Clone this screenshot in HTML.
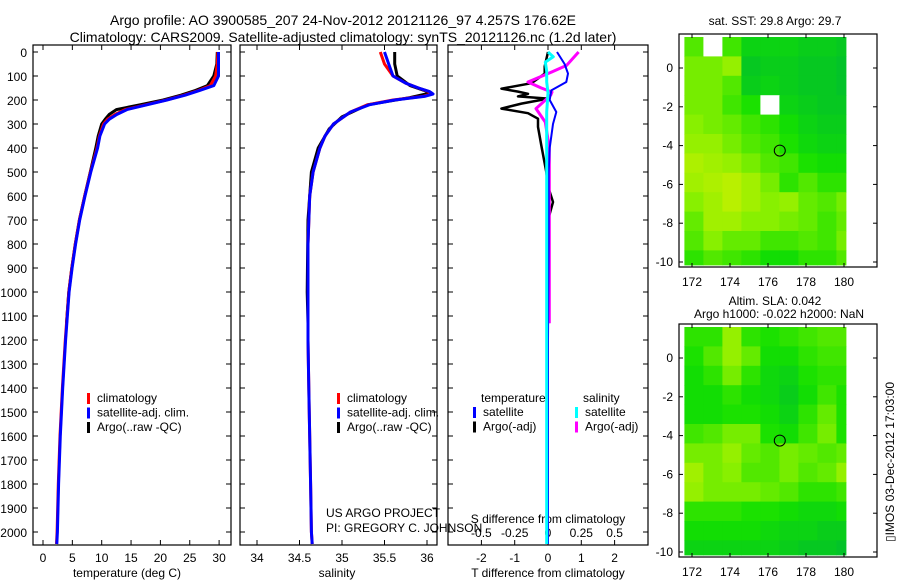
<!DOCTYPE html>
<html><head><meta charset="utf-8">
<style>
body{margin:0;background:#fff;}
svg{display:block;font-family:"Liberation Sans",sans-serif;}
text{fill:#000;}
</style></head>
<body>
<svg id="fig" width="900" height="580" viewBox="0 0 900 580">
<text x="343" y="25" font-size="14" text-anchor="middle">Argo profile: AO 3900585_207 24-Nov-2012 20121126_97 4.257S 176.62E</text>
<text x="343" y="42" font-size="14" text-anchor="middle">Climatology: CARS2009. Satellite-adjusted climatology: synTS_20121126.nc (1.2d later)</text>
<text x="775" y="25" font-size="12" text-anchor="middle">sat. SST: 29.8 Argo: 29.7</text>
<text x="775" y="305" font-size="12" text-anchor="middle">Altim. SLA: 0.042</text>
<text x="779" y="318" font-size="12" text-anchor="middle">Argo h1000: -0.022 h2000: NaN</text>
<text transform="translate(894,462) rotate(-90)" font-size="12" text-anchor="middle">▯IMOS 03-Dec-2012 17:03:00</text>
<text x="326" y="517" font-size="12">US ARGO PROJECT</text>
<text x="326" y="532" font-size="12">PI: GREGORY C. JOHNSON</text>
</svg>
<script>
// ---- profile data ----
const climDepth=[0,50,100,140,160,180,200,220,240,260,280,300,350,400,500,600,700,800,900,1000,1200,1400,1600,1800,2000,2050];
const climTemp=[29.8,29.7,29.4,28.5,26.5,24,21,17.5,14,12.3,11,10.3,9.6,9.2,8.1,7.1,6.2,5.5,4.9,4.4,3.8,3.3,2.9,2.6,2.4,2.3];
const satTemp=[29.9,29.9,29.9,29.1,26.7,24.2,21.1,17.7,14.3,12.6,11.3,10.5,9.7,9.3,8.15,7.15,6.25,5.55,4.95,4.45,3.85,3.35,2.95,2.65,2.45,2.35];
const argoDepth=[0,50,100,140,160,180,200,220,240,260,280,300,350,400,500,600,700,800,900,1000,1130];
const argoTemp=[29.7,29.6,29.1,28.0,26.0,23.5,20.5,16.5,12.5,11.3,10.6,10.0,9.4,9.0,8.05,7.1,6.2,5.5,4.9,4.4,4.0];
const salDepth=[0,50,100,130,150,165,175,185,200,220,250,300,350,400,500,600,800,1000,1200,1400,1600,1800,2000,2050];
const climSal=[35.45,35.5,35.6,35.75,35.9,36.02,36.05,35.95,35.6,35.3,35.1,34.9,34.8,34.74,34.66,34.62,34.6,34.6,34.6,34.61,34.62,34.63,34.64,34.65];
const satSal=[35.5,35.55,35.6,35.75,35.9,36.03,36.07,35.97,35.62,35.32,35.1,34.9,34.8,34.74,34.66,34.62,34.6,34.6,34.6,34.61,34.62,34.63,34.64,34.65];
const argoSalDepth=[0,50,100,140,170,190,220,270,320,400,500,700,1000,1130];
const argoSal=[35.62,35.62,35.65,35.8,36.05,35.8,35.3,35.0,34.85,34.72,34.64,34.6,34.59,34.6];
const tdSatDepth=[0,50,90,125,160,200,250,300,400,500,800,1200,2050];
const tdSat=[0.27,0.5,0.6,0.55,0.1,0.05,0.25,0.15,0.05,0.02,0.02,0.0,0.0];
const tdArgoDepth=[0,60,90,130,153,165,174,185,194,215,236,255,278,312,389,500,560,625,700,1130];
const tdArgo=[0,-0.1,-0.1,-0.5,-1.4,-0.9,-0.6,-0.9,0,-0.8,-1.4,-0.6,-0.3,-0.3,-0.2,-0.05,0,0.15,0,0];
const sdSatDepth=[0,20,42,80,125,170,250,400,800,1200,2050];
const sdSat=[0,0.04,-0.02,-0.01,-0.01,0.0,-0.01,-0.01,-0.01,-0.01,-0.01];
const sdArgoDepth=[0,56,83,125,150,167,180,236,292,400,600,1130];
const sdArgo=[0.23,0.14,0.03,-0.15,-0.05,0.03,0.02,-0.09,-0.02,0.01,0.01,0.01];
const depthTicks=[0,100,200,300,400,500,600,700,800,900,1000,1100,1200,1300,1400,1500,1600,1700,1800,1900,2000];
const tempTicks=[0,5,10,15,20,25,30];
const salTicks=[34,34.5,35,35.5,36];
const tdTicks=[-2,-1,0,1,2];
const sdTicks=[-0.5,-0.25,0,0.25,0.5];
// ---- map data (values 0=dark green .. 1=yellow, -1=no data) ----
const mapLon=[171.6,172.6,173.6,174.6,175.6,176.6,177.6,178.6,179.6];
const mapLat=[1.6,0.6,-0.4,-1.4,-2.4,-3.4,-4.4,-5.4,-6.4,-7.4,-8.4,-9.4];
const sstVals=[
[0.5,-1,0.45,0.2,0.2,0.2,0.15,0.15,0.1],
[0.6,0.6,0.7,0.1,0.15,0.15,0.1,0.1,0.05],
[0.6,0.6,0.5,0.15,0.2,0.15,0.1,0.1,0.05],
[0.6,0.6,0.45,0.35,-1,0.2,0.15,0.1,0.1],
[0.65,0.6,0.55,0.45,0.4,0.3,0.2,0.15,0.15],
[0.7,0.7,0.6,0.5,0.45,0.35,0.25,0.2,0.2],
[0.8,0.75,0.7,0.6,0.5,0.45,0.35,0.3,0.3],
[0.75,0.8,0.85,0.75,0.6,0.4,0.5,0.4,0.4],
[0.65,0.75,0.85,0.75,0.65,0.7,0.55,0.5,0.6],
[0.55,0.75,0.75,0.65,0.65,0.6,0.55,0.45,0.55],
[0.5,0.65,0.55,0.55,0.45,0.45,0.5,0.45,0.6],
[0.4,0.5,0.45,0.4,0.3,0.3,0.4,0.4,0.5]];
const slaVals=[
[0.4,0.4,0.7,0.4,0.35,0.4,0.45,0.5,0.5],
[0.35,0.5,0.7,0.55,0.3,0.3,0.4,0.45,0.45],
[0.3,0.4,0.6,0.4,0.25,0.2,0.35,0.4,0.4],
[0.3,0.3,0.4,0.3,0.25,0.15,0.3,0.45,0.35],
[0.3,0.3,0.35,0.35,0.3,0.2,0.4,0.55,0.35],
[0.45,0.5,0.6,0.6,0.35,0.3,0.45,0.6,0.35],
[0.6,0.6,0.7,0.55,0.5,0.6,0.55,0.5,0.55],
[0.75,0.6,0.65,0.5,0.5,0.6,0.5,0.55,0.7],
[0.7,0.6,0.6,0.6,0.55,0.5,0.4,0.4,0.45],
[0.4,0.4,0.4,0.35,0.35,0.3,0.25,0.25,0.3],
[0.3,0.3,0.3,0.3,0.25,0.2,0.2,0.15,0.15],
[0.2,0.2,0.2,0.2,0.2,0.15,0.1,0.1,0.05]];
const lonTicks=[172,174,176,178,180];
const latTicks=[0,-2,-4,-6,-8,-10];
const argoLon=176.62, argoLat=-4.257;

const NS='http://www.w3.org/2000/svg';
const svg=document.getElementById('fig');
function mk(tag,attrs,parent){const e=document.createElementNS(NS,tag);for(const k in attrs)e.setAttribute(k,attrs[k]);(parent||svg).appendChild(e);return e;}
const Y=d=>52+d*0.24;
function panel(x0,x1,name){
  const g=mk('g',{});
  
  
  const r=mk('rect',{x:x0,y:45,width:x1-x0,height:500,fill:'none',stroke:'#000','stroke-width':1.2},g);
  
  
  depthTicks.forEach(d=>{
    mk('line',{x1:x0,x2:x0+5,y1:Y(d),y2:Y(d),stroke:'#000'},g);
    mk('line',{x1:x1,x2:x1-5,y1:Y(d),y2:Y(d),stroke:'#000'},g);
  });
  return g;
}
function line(g,xs,ds,X,color,w,name){
  const p=xs.map((v,i)=>X(v).toFixed(1)+','+Y(ds[i]).toFixed(1)).join(' ');
  const l=mk('polyline',{points:p,fill:'none',stroke:color,'stroke-width':w,'stroke-linejoin':'round'},g);
  
  
}
function txt(g,x,y,s,anchor,size){const t=mk('text',{x:x,y:y,'font-size':size||12,'text-anchor':anchor||'start'},g);t.textContent=s;return t;}
function xticks(g,ticks,X,labY,fmt){
  ticks.forEach(v=>{
    mk('line',{x1:X(v),x2:X(v),y1:545,y2:540,stroke:'#000'},g);
    mk('line',{x1:X(v),x2:X(v),y1:45,y2:50,stroke:'#000'},g);
    const t=txt(g,X(v),labY,fmt?fmt(v):String(v),'middle');
    
    
  });
}
function legend(g,x,y,items){
  items.forEach((it,i)=>{
    mk('rect',{x:x,y:y+i*14.5-9,width:3,height:11,fill:it[1]},g);
    const t=txt(g,x+10,y+i*14.5,it[0]);
    
    
  });
}
// Panel 1 temperature
const XT=v=>43+v*5.87;
let g1=panel(33,231,'temperature-panel');
depthTicks.forEach(d=>{const t=txt(g1,27,Y(d)+5,String(d),'end');});
xticks(g1,tempTicks,XT,562);
const tl=txt(g1,127,577,'temperature (deg C)','middle');
line(g1,argoTemp,argoDepth,XT,'#000',3,'argo-temperature-line');
line(g1,climTemp,climDepth,XT,'#f00',3,'clim-temperature-line');
line(g1,satTemp,climDepth,XT,'#00f',3,'sat-temperature-line');
legend(g1,87,402,[['climatology','#f00'],['satellite-adj. clim.','#00f'],['Argo(..raw -QC)','#000']]);
// Panel 2 salinity
const XS=v=>257+(v-34)*85;
let g2=panel(240,437,'salinity-panel');
xticks(g2,salTicks,XS,562);
const sl=txt(g2,337,577,'salinity','middle');
line(g2,argoSal,argoSalDepth,XS,'#000',3,'argo-salinity-line');
line(g2,climSal,salDepth,XS,'#f00',3,'clim-salinity-line');
line(g2,satSal,salDepth,XS,'#00f',3,'sat-salinity-line');
legend(g2,337,402,[['climatology','#f00'],['satellite-adj. clim.','#00f'],['Argo(..raw -QC)','#000']]);
// Panel 3 differences
const XD=v=>548+v*33.3;
const XSD=v=>548+v*133.2;
let g3=panel(448,648,'difference-panel');
xticks(g3,tdTicks,XD,562);
sdTicks.forEach(v=>{const t=txt(g3,XSD(v),537,String(v),'middle');});
const s1=txt(g3,548,523,'S difference from climatology','middle');
const s2=txt(g3,548,577,'T difference from climatology','middle');
line(g3,tdArgo,tdArgoDepth,XD,'#000',2.5,'argo-temp-diff-line');
line(g3,sdArgo,sdArgoDepth,XSD,'#f0f',3,'argo-sal-diff-line');
line(g3,tdSat,tdSatDepth,XD,'#00f',2,'sat-temp-diff-line');
line(g3,sdSat,sdSatDepth,XSD,'#0ff',3,'sat-sal-diff-line');
txt(g3,481,402,'temperature');txt(g3,583,402,'salinity');
legend(g3,473,416,[['satellite','#00f'],['Argo(-adj)','#000']]);
legend(g3,575,416,[['satellite','#0ff'],['Argo(-adj)','#f0f']]);
// Maps
function col(v){
  if(v<0)return '#fff';
  const a=[0,190,48],b=[20,224,0],c=[140,240,0],d=[220,240,0];
  let p,q,t;
  if(v<0.33){p=a;q=b;t=v/0.33;}else if(v<0.66){p=b;q=c;t=(v-0.33)/0.33;}else{p=c;q=d;t=(v-0.66)/0.34;}
  return 'rgb('+p.map((x,i)=>Math.round(x+(q[i]-x)*t)).join(',')+')';
}
function map(y0,vals,name){
  const g=mk('g',{});
  
  
  const LX=lon=>692+(lon-172)*19;
  const LY=lat=>y0+34-lat*19.4;
  mapLat.forEach((lat,i)=>mapLon.forEach((lon,j)=>{
    const x=LX(lon),y=LY(lat);
    const w=Math.min(LX(lon+1),LX(180.1))-x;
    const c=mk('rect',{x:x.toFixed(1),y:y.toFixed(1),width:(w+0.5).toFixed(1),height:(19.4*(i==11?0.75:1)+0.5).toFixed(1),fill:col(vals[i][j])},g);
    
    
  }));
  const f=mk('rect',{x:679,y:y0,width:198,height:233,fill:'none',stroke:'#000','stroke-width':1.2},g);
  
  
  lonTicks.forEach(l=>{
    mk('line',{x1:LX(l),x2:LX(l),y1:y0,y2:y0+4,stroke:'#000'},g);
    mk('line',{x1:LX(l),x2:LX(l),y1:y0+233,y2:y0+229,stroke:'#000'},g);
    const t=txt(g,LX(l),y0+252,String(l),'middle');
    
  });
  latTicks.forEach(l=>{
    mk('line',{x1:679,x2:683,y1:LY(l),y2:LY(l),stroke:'#000'},g);
    mk('line',{x1:877,x2:873,y1:LY(l),y2:LY(l),stroke:'#000'},g);
    const t=txt(g,673,LY(l)+4,String(l),'end');
    
  });
  const m=mk('circle',{cx:LX(argoLon),cy:LY(argoLat),r:5.5,fill:'none',stroke:'#000','stroke-width':1},g);
  
  
}
map(34,sstVals,'sst-map');
map(324,slaVals,'sla-map');
</script>
</body></html>
